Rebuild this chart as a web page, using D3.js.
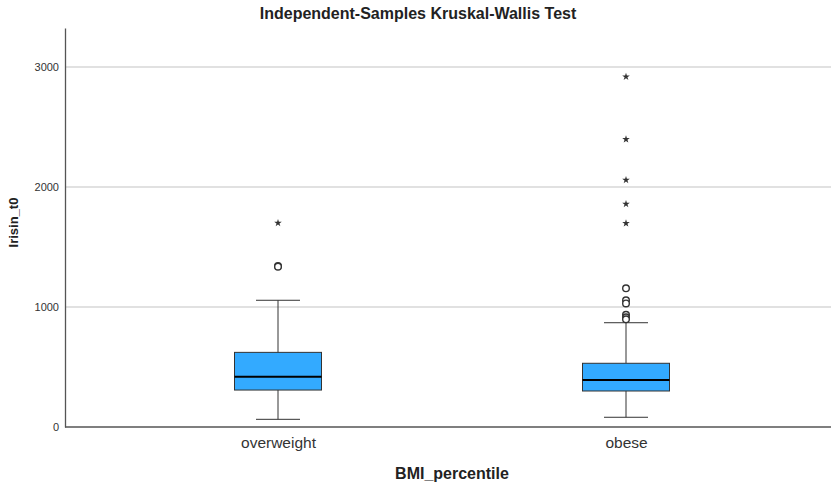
<!DOCTYPE html>
<html><head><meta charset="utf-8">
<script src="https://cdn.jsdelivr.net/npm/d3@7"></script>
<style>body{margin:0;background:#fff}svg{display:block}text{font-family:"Liberation Sans",Arial,sans-serif}</style>
</head><body><svg id="c" width="831" height="487"></svg>
<script>
const categories = ["overweight", "obese"];
const whiskerLow = [64, 81];
const q1 = [308, 300];
const medians = [419, 392];
const q3 = [622, 531];
const whiskerHigh = [1056, 869];
const outliers = [[1342, 1336], [1156, 1056, 1030, 935, 914, 897]];
const extremes = [[1700], [2919, 2397, 2058, 1858, 1697]];
const yTicks = [0, 1000, 2000, 3000];

const svg = d3.select("#c");
const y = d3.scaleLinear().domain([0, 3325]).range([427, 28]);
const x = d3.scalePoint().domain(categories).range([278, 626]);
const boxW = 87, capW = 44;
const FF = '"Liberation Sans",Arial,sans-serif';

// gridlines
svg.append("g").selectAll("line").data(yTicks.filter(d => d > 0)).join("line")
  .attr("x1", 66).attr("x2", 831).attr("y1", d => y(d)).attr("y2", d => y(d))
  .attr("stroke", "#c4c4c4").attr("stroke-width", 1.2);

// y axis
const ya = svg.append("g").attr("transform", "translate(65,0)")
  .call(d3.axisLeft(y).tickValues(yTicks).tickFormat(d3.format("d")).tickSize(0).tickPadding(6));
ya.select(".domain").attr("stroke", "#555").attr("stroke-width", 1.3);
ya.selectAll("text").attr("font-size", 11).attr("fill", "#333").attr("font-family", FF);

// x axis
const xa = svg.append("g").attr("transform", "translate(0,427)")
  .call(d3.axisBottom(x).tickSize(0).tickPadding(10));
xa.select(".domain").remove();
svg.append("line").attr("x1", 65).attr("x2", 831).attr("y1", 427).attr("y2", 427)
  .attr("stroke", "#555").attr("stroke-width", 1.3);
xa.selectAll("text").attr("font-size", 15.5).attr("fill", "#333").attr("font-family", FF);

// boxes
const g = svg.append("g");
categories.forEach((c, i) => {
  const cx = x(c);
  const s = "#333";
  g.append("line").attr("x1", cx).attr("x2", cx).attr("y1", y(whiskerLow[i])).attr("y2", y(q1[i])).attr("stroke", s);
  g.append("line").attr("x1", cx).attr("x2", cx).attr("y1", y(q3[i])).attr("y2", y(whiskerHigh[i])).attr("stroke", s);
  g.append("line").attr("x1", cx - capW / 2).attr("x2", cx + capW / 2).attr("y1", y(whiskerLow[i])).attr("y2", y(whiskerLow[i])).attr("stroke", s);
  g.append("line").attr("x1", cx - capW / 2).attr("x2", cx + capW / 2).attr("y1", y(whiskerHigh[i])).attr("y2", y(whiskerHigh[i])).attr("stroke", s);
  g.append("rect").attr("x", cx - boxW / 2).attr("width", boxW)
    .attr("y", y(q3[i])).attr("height", y(q1[i]) - y(q3[i]))
    .attr("fill", "#33aaff").attr("stroke", s);
  g.append("line").attr("x1", cx - boxW / 2).attr("x2", cx + boxW / 2).attr("y1", y(medians[i])).attr("y2", y(medians[i]))
    .attr("stroke", "#000").attr("stroke-width", 2);
  outliers[i].forEach(v => {
    g.append("circle").attr("cx", cx).attr("cy", y(v)).attr("r", 3.3)
      .attr("fill", "#fff").attr("stroke", "#333").attr("stroke-width", 1.4);
  });
  extremes[i].forEach(v => {
    g.append("path").attr("d", d3.symbol(d3.symbolStar, 18)())
      .attr("transform", `translate(${cx},${y(v)})`).attr("fill", "#333");
  });
});

// titles
svg.append("text").attr("x", 418).attr("y", 19).attr("text-anchor", "middle")
  .attr("font-size", 16).attr("font-weight", "bold").attr("fill", "#222").text("Independent-Samples Kruskal-Wallis Test");
svg.append("text").attr("x", 452).attr("y", 479).attr("text-anchor", "middle")
  .attr("font-size", 16).attr("font-weight", "bold").attr("fill", "#222").text("BMI_percentile");
svg.append("text").attr("transform", "translate(18,222.5) rotate(-90)").attr("text-anchor", "middle")
  .attr("font-size", 13).attr("font-weight", "bold").attr("fill", "#222").text("Irisin_t0");
</script></body></html>
